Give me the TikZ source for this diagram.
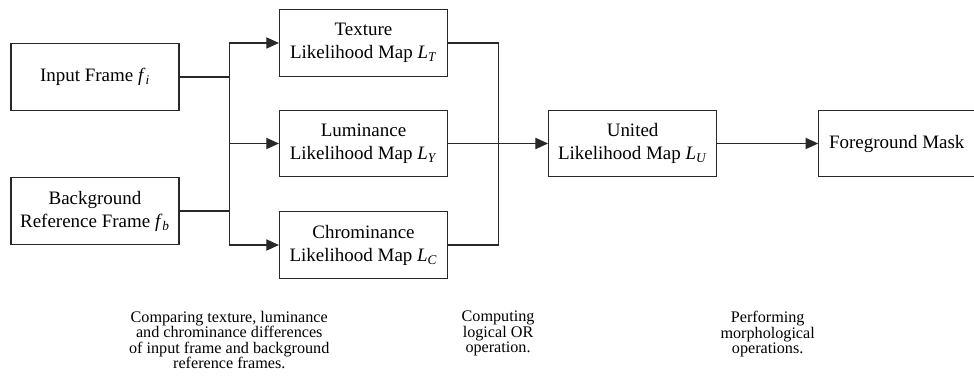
\documentclass[tikz,border=0pt]{standalone}
\usepackage{fontspec}
\setmainfont{Liberation Serif}
\usepackage{tikz}
\usetikzlibrary{arrows.meta,calc,positioning}
\definecolor{FrameGray}{RGB}{40,40,40}
\newcommand{\subvar}[2]{\textit{#1}\textsubscript{\textit{#2}}}

\begin{document}
\begin{tikzpicture}[
  box/.style={draw=FrameGray, line width=0.8pt, minimum width=4.2cm, minimum height=1.66cm,
    inner sep=0pt, align=center, font=\fontsize{13.5}{16.4}\selectfont},
  note/.style={align=center, inner sep=0pt, anchor=north, font=\fontsize{11.5}{11}\selectfont},
  flow/.style={draw=FrameGray, line width=0.8pt},
  tip/.style={flow, -{Triangle[length=9pt,width=8pt]}}
]
\useasboundingbox (0,0) rectangle (24.35,-9.475);
\node[box] (lum) at (9.0875,-3.5875) {Luminance\\Likelihood Map \subvar{L}{Y}};
\node[box, above=0.825cm of lum] (tex) {Texture\\Likelihood Map \subvar{L}{T}};
\node[box, below=0.85cm of lum] (chr) {Chrominance\\Likelihood Map \subvar{L}{C}};
\node[box] (inp) at (2.375,-1.925) {Input Frame \subvar{f}{i}};
\node[box] (bg) at (2.375,-5.275) {Background\\Reference Frame \subvar{f}{b}};
\node[box, right=2.5cm of lum] (uni) {United\\Likelihood Map \subvar{L}{U}};
\node[box, right=2.525cm of uni, minimum width=3.9cm] (fg) {Foreground Mask};
\coordinate (split) at ($(inp.east)!0.5!(lum.west)$);
\coordinate (join) at ($(tex.east)!0.5!(uni.west)$);
\coordinate (morph) at ($(uni.east)!0.5!(fg.west)$);
\draw[flow] (inp.east) -- (inp.east -| split);
\draw[flow] (bg.east) -- (bg.east -| split);
\draw[flow] (tex.west -| split) -- (chr.west -| split);
\foreach \m in {tex,lum,chr}
  \draw[tip] (\m.west -| split) -- (\m.west);
\draw[flow] (tex.east) -| (join) |- (chr.east);
\draw[tip] (lum.east) -- (uni.west);
\draw[tip] (uni.east) -- (fg.west);
\node[note] (cmpnote) at (split |- 0,-7.775) {Comparing texture, luminance\\and chrominance differences\\of input frame and background\\reference frames.};
\node[note] (ornote) at (join |- 0,-7.775) {Computing\\logical OR\\operation.};
\node[note] (mornote) at (morph |- 0,-7.775) {Performing\\morphological\\operations.};
\end{tikzpicture}
\end{document}
